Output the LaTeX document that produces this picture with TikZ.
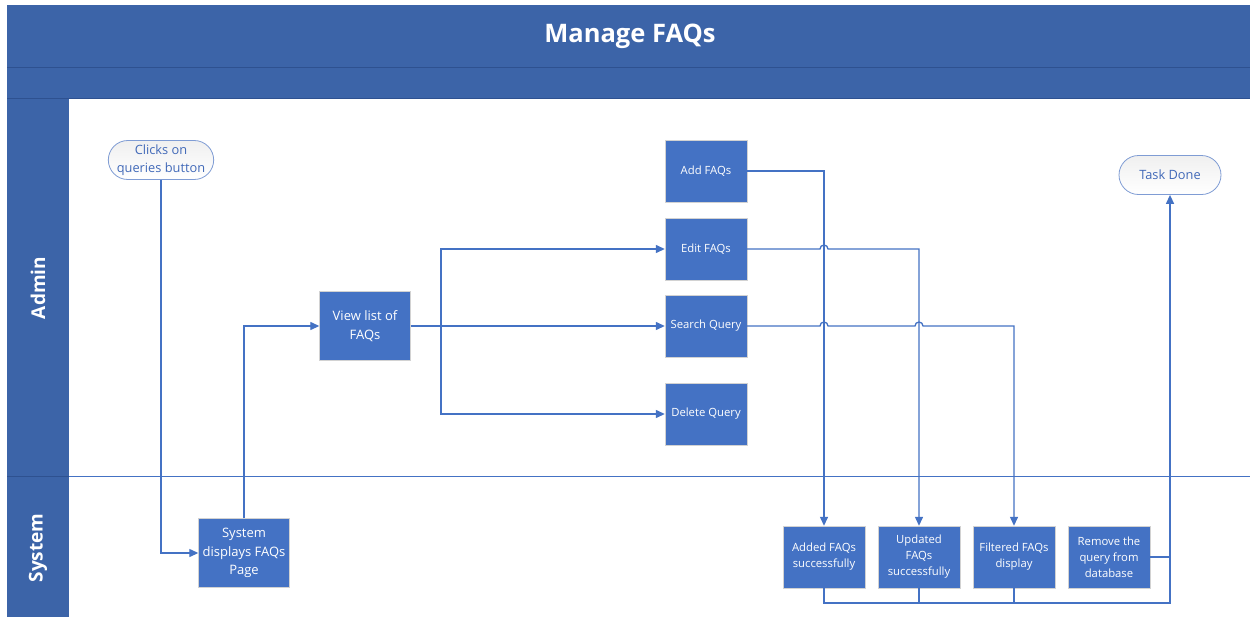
\documentclass[tikz,border=0pt]{standalone}
\usepackage{fontspec}
\setmainfont{Open Sans}
\usetikzlibrary{arrows.meta,shapes.misc}
\definecolor{laneblue}{HTML}{3C64A8}
\definecolor{bandline}{HTML}{2E5190}
\definecolor{boxblue}{HTML}{4472C4}
\definecolor{pillline}{HTML}{7F9CD4}
\definecolor{pilltext}{HTML}{4169B8}

\tikzset{
	stepbox/.style={draw=gray!35, fill=boxblue, text=white, align=center, inner sep=1pt,
		minimum width=82pt, minimum height=62pt, font=\fontsize{11.3}{16}\selectfont},
	bigbox/.style={stepbox, minimum width=91pt, minimum height=69pt,
		font=\fontsize{13}{18.5}\selectfont},
	pill/.style={rounded rectangle, draw=pillline, line width=0.8pt, text=pilltext, align=center,
		top color=gray!12, bottom color=white, inner sep=1pt, minimum height=39pt,
		font=\fontsize{12.8}{18}\selectfont},
	lanelabel/.style={rotate=90, text=white, font=\bfseries\fontsize{19}{22}\selectfont},
	flow/.style={draw=boxblue, line width=1.3pt, -{Triangle[length=9pt,width=8pt]}},
	joinline/.style={draw=boxblue, line width=1.3pt}
}

\begin{document}
\begin{tikzpicture}[x=1pt, y=-1pt]
	\useasboundingbox (0,0) rectangle (1250,616);
	\clip (0,0) rectangle (1250,616);
	\fill[laneblue] (7,5) rectangle (1260,620);
	\fill[white] (69,98) rectangle (1260,620);
	\draw[bandline, line width=0.8pt] (7,67) -- (1260,67);
	\draw[bandline, line width=0.8pt] (7,98) -- (1260,98);
	\draw[bandline, line width=0.8pt] (7,476) -- (69,476);
	\draw[boxblue, line width=1pt] (69,476) -- (1260,476);
	\node[text=white, font=\bfseries\fontsize{25.5}{30}\selectfont] (title) at (630,36) {Manage FAQs};
	\node[lanelabel] (admin) at (38,288) {Admin};
	\node[lanelabel] (system) at (38,548) {System};

	\node[pill, minimum width=103pt] (clicks) at (161,160) {Clicks on\\queries button};
	\node[pill, minimum width=104pt] (done) at (1170,175) {Task Done};
	\node[bigbox] (sysdisp) at (244,553) {System\\displays FAQs\\Page};
	\node[bigbox] (viewlist) at (365,326) {View list of\\FAQs};
	\node[stepbox] (add) at (706,171) {Add FAQs};
	\node[stepbox] (edit) at (706,249) {Edit FAQs};
	\node[stepbox] (search) at (706,326) {Search Query};
	\node[stepbox] (delete) at (706,414) {Delete Query};
	\node[stepbox] (added) at (824,557) {Added FAQs\\successfully};
	\node[stepbox] (updated) at (919,557) {Updated\\FAQs\\successfully};
	\node[stepbox] (filtered) at (1014,557) {Filtered FAQs\\display};
	\node[stepbox] (remove) at (1109,557) {Remove the\\query from\\database};
	\coordinate (fork) at (441,326);
	\coordinate (merge) at (1170,603);

	\draw[flow] (clicks.south) |- (sysdisp.west);
	\draw[flow] (sysdisp.north) |- (viewlist.west);
	\draw[joinline] (viewlist.east) -- (fork);
	\draw[flow] (fork) |- (edit.west);
	\draw[flow] (fork) -- (search.west);
	\draw[flow] (fork) |- (delete.west);
	\draw[flow] (add.east) -| (added.north);
	\draw[flow] (edit.east) -- ([xshift=-4pt]added.north |- edit.east)
		arc[start angle=180, end angle=0, radius=4pt] -| (updated.north);
	\draw[flow] (search.east) -- ([xshift=-4pt]added.north |- search.east)
		arc[start angle=180, end angle=0, radius=4pt] -- ([xshift=-4pt]updated.north |- search.east)
		arc[start angle=180, end angle=0, radius=4pt] -| (filtered.north);
	\draw[joinline] (updated.south) -- (updated.south |- merge);
	\draw[joinline] (filtered.south) -- (filtered.south |- merge);
	\draw[joinline] (remove.east) -- (remove.east -| merge);
	\draw[flow] (added.south) |- (merge) -- (done.south);
\end{tikzpicture}
\end{document}
